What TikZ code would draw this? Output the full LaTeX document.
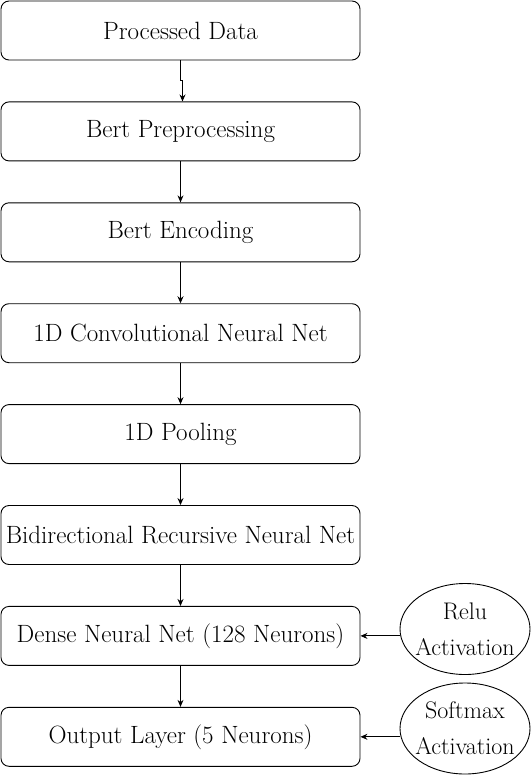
\documentclass[tikz,border=0pt]{standalone}
\usetikzlibrary{positioning,shapes.geometric,arrows.meta,calc}

\begin{document}
\begin{tikzpicture}[x=1pt,y=1pt]
    \tikzset{StepBox/.style = {draw,line width=0.9pt,rounded corners=8pt,minimum width=359pt,minimum height=59pt,font=\fontsize{25}{30}\selectfont,inner sep=2pt}}
    \tikzset{ActEllipse/.style = {draw,line width=0.9pt,ellipse,minimum width=130pt,minimum height=91pt,inner xsep=-9pt,inner ysep=0pt,align=center,font=\fontsize{24}{36}\selectfont}}
    \tikzset{Fleche/.style = {-{Stealth[length=7pt,width=6pt]},line width=0.9pt}}

    \useasboundingbox (0,0) rectangle (531,-776);

    \node[StepBox] (data) at (180.5,-30.5) {Processed Data};
    \node[StepBox, below=41pt of data] (prep) {Bert Preprocessing};
    \node[StepBox, below=41pt of prep] (enc) {Bert Encoding};
    \node[StepBox, below=41pt of enc] (conv) {1D Convolutional Neural Net};
    \node[StepBox, below=41pt of conv] (pool) {1D Pooling};
    \node[StepBox, below=41pt of pool] (birnn) {Bidirectional Recursive Neural Net};
    \node[StepBox, below=41pt of birnn] (dense) {Dense Neural Net (128 Neurons)};
    \node[StepBox, below=41pt of dense] (out) {Output Layer (5 Neurons)};

    \node[ActEllipse] (relu) at (465,-629) {Relu\\Activation};
    \node[ActEllipse] (soft) at (465,-728.5) {Softmax\\Activation};

    % les fleches
    \draw[Fleche] (data.south) -- ++(0,-20pt) -| ($(prep.north)+(2pt,0)$);
    \draw[Fleche] (prep) -- (enc);
    \draw[Fleche] (enc) -- (conv);
    \draw[Fleche] (conv) -- (pool);
    \draw[Fleche] (pool) -- (birnn);
    \draw[Fleche] (birnn) -- (dense);
    \draw[Fleche] (dense) -- (out);
    \draw[Fleche] (relu.west |- dense.east) -- (dense.east);
    \draw[Fleche] (soft.west |- out.east) -- (out.east);
\end{tikzpicture}
\end{document}
